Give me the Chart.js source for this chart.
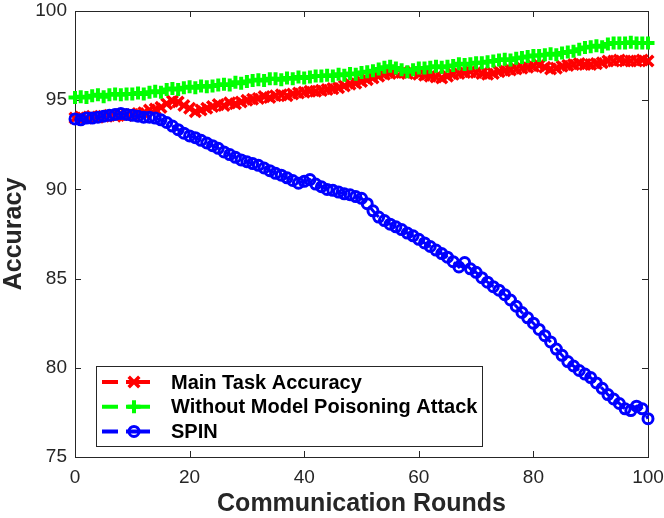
<!DOCTYPE html>
<html>
<head>
<meta charset="utf-8">
<script src="https://cdn.jsdelivr.net/npm/chart.js@4.4.1/dist/chart.umd.min.js"></script>
<style>
  html, body { margin: 0; padding: 0; background: #fff; }
  #wrap { width: 664px; height: 518px; }
</style>
</head>
<body>
<div id="wrap"><canvas id="graph" width="664" height="518"></canvas></div>
<script>
// rounds 0..100, one marker per round
const rounds = [0,1,2,3,4,5,6,7,8,9,10,11,12,13,14,15,16,17,18,19,20,21,22,23,24,25,26,27,28,29,30,31,32,33,34,35,36,37,38,39,40,41,42,43,44,45,46,47,48,49,50,51,52,53,54,55,56,57,58,59,60,61,62,63,64,65,66,67,68,69,70,71,72,73,74,75,76,77,78,79,80,81,82,83,84,85,86,87,88,89,90,91,92,93,94,95,96,97,98,99,100];

const mainTask = [94.0,94.05,94.0,94.1,94.05,94.1,94.15,94.1,94.2,94.15,94.2,94.25,94.3,94.45,94.5,94.6,94.8,94.95,94.9,94.7,
  94.55,94.35,94.45,94.55,94.65,94.75,94.7,94.85,94.8,94.9,95.0,95.05,95.1,95.2,95.15,95.25,95.3,95.25,95.35,95.4,
  95.45,95.5,95.5,95.55,95.6,95.65,95.7,95.8,95.9,95.95,96.05,96.15,96.25,96.35,96.45,96.5,96.55,96.55,96.5,96.55,
  96.45,96.4,96.35,96.3,96.25,96.35,96.45,96.5,96.55,96.6,96.55,96.5,96.45,96.5,96.6,96.65,96.7,96.75,96.8,96.85,
  96.9,96.95,96.85,96.75,96.8,96.9,96.95,97.0,97.05,97.0,97.0,97.05,97.1,97.2,97.2,97.25,97.2,97.2,97.2,97.25,97.2];

const noAttack = [95.15,95.2,95.15,95.25,95.3,95.2,95.3,95.35,95.3,95.35,95.35,95.4,95.35,95.45,95.5,95.45,95.6,95.65,95.6,95.7,
  95.75,95.7,95.8,95.75,95.8,95.85,95.9,95.85,96.0,95.95,96.05,96.1,96.15,96.1,96.2,96.2,96.15,96.25,96.2,96.3,
  96.25,96.3,96.35,96.35,96.4,96.35,96.45,96.4,96.5,96.45,96.55,96.6,96.65,96.75,96.85,96.9,96.8,96.7,96.6,96.7,
  96.8,96.8,96.85,96.9,96.85,96.9,96.95,97.05,97.0,97.05,97.1,97.1,97.15,97.2,97.25,97.3,97.25,97.35,97.4,97.45,
  97.5,97.5,97.55,97.6,97.55,97.65,97.7,97.75,97.85,97.95,98.0,98.05,98.0,98.15,98.2,98.2,98.2,98.25,98.2,98.2,98.2];

const spin = [93.95,93.9,94.0,94.0,94.05,94.1,94.15,94.2,94.25,94.2,94.15,94.1,94.05,94.05,94.0,93.9,93.75,93.55,93.35,93.15,
  93.0,92.9,92.75,92.6,92.45,92.3,92.1,91.95,91.8,91.65,91.55,91.45,91.35,91.2,91.05,90.9,90.8,90.65,90.5,90.35,
  90.45,90.55,90.3,90.15,90.0,89.95,89.85,89.75,89.7,89.6,89.5,89.2,88.8,88.45,88.25,88.05,87.9,87.75,87.55,87.4,
  87.2,87.0,86.8,86.6,86.4,86.2,85.95,85.65,85.9,85.55,85.35,85.05,84.8,84.55,84.35,84.1,83.8,83.45,83.1,82.8,
  82.5,82.15,81.8,81.45,81.05,80.7,80.35,80.1,79.85,79.65,79.45,79.15,78.85,78.5,78.25,78.0,77.7,77.6,77.85,77.7,77.15];

const seriesNames = ["Main Task Accuracy", "Without Model Poisoning Attack", "SPIN"];
const xTicks = [0, 20, 40, 60, 80, 100];
const yTicks = [75, 80, 85, 90, 95, 100];

const axisColor = '#262626';
const tickFont = { family: 'Liberation Sans, Arial, sans-serif', size: 19 };
const titleFont = { family: 'Liberation Sans, Arial, sans-serif', size: 25, weight: 'bold', lineHeight: 1.1 };

function pts(vals) {
  return vals.map((v, i) => ({ x: rounds[i], y: v }));
}

// matlab-ish box with inward ticks, and legend box in the lower left
const matlabBits = {
  id: 'matlabBits',
  beforeDatasetsDraw(chart) {
    const ctx = chart.ctx, a = chart.chartArea;
    const xs = chart.scales.x, ys = chart.scales.y;
    ctx.save();
    ctx.strokeStyle = axisColor;
    ctx.lineWidth = 1;
    ctx.strokeRect(Math.round(a.left) + 0.5, Math.round(a.top) + 0.5,
      Math.round(a.right - a.left), Math.round(a.bottom - a.top));
    ctx.beginPath();
    xTicks.forEach(t => {
      const px = Math.round(xs.getPixelForValue(t)) + 0.5;
      ctx.moveTo(px, a.bottom); ctx.lineTo(px, a.bottom - 6);
      ctx.moveTo(px, a.top); ctx.lineTo(px, a.top + 6);
    });
    yTicks.forEach(t => {
      const py = Math.round(ys.getPixelForValue(t)) + 0.5;
      ctx.moveTo(a.left, py); ctx.lineTo(a.left + 6, py);
      ctx.moveTo(a.right, py); ctx.lineTo(a.right - 6, py);
    });
    ctx.stroke();
    ctx.restore();
  },
  afterDatasetsDraw(chart) {
    const ctx = chart.ctx;
    const bx = 96.5, by = 366.5, bw = 386, bh = 80;
    ctx.save();
    ctx.fillStyle = '#fff';
    ctx.fillRect(bx, by, bw, bh);
    ctx.strokeStyle = axisColor;
    ctx.lineWidth = 1;
    ctx.strokeRect(bx, by, bw, bh);
    chart.data.datasets.forEach((ds, i) => {
      const y = 382 + i * 24.7;
      ctx.strokeStyle = ds.borderColor;
      ctx.lineWidth = 4;
      ctx.setLineDash([]);
      ctx.beginPath();
      ctx.moveTo(102, y); ctx.lineTo(118, y);
      ctx.moveTo(126, y); ctx.lineTo(150, y);
      ctx.stroke();
      ctx.fillStyle = ds.pointBackgroundColor;
      ctx.lineWidth = ds.pointBorderWidth;
      Chart.helpers.drawPoint(ctx, {
        pointStyle: ds.pointStyle, radius: ds.pointRadius,
        rotation: 0, borderWidth: ds.pointBorderWidth
      }, 134, y);
      ctx.fillStyle = '#000';
      ctx.font = 'bold 20px "Liberation Sans", Arial, sans-serif';
      ctx.textBaseline = 'middle';
      ctx.textAlign = 'left';
      ctx.fillText(ds.label, 171, y + 1);
    });
    ctx.restore();
  }
};

new Chart(document.getElementById('graph'), {
  type: 'line',
  data: {
    datasets: [
      {
        label: seriesNames[0], data: pts(mainTask), order: 3,
        borderColor: '#ff0000', pointBorderColor: '#ff0000', pointBackgroundColor: 'rgba(0,0,0,0)',
        borderWidth: 3, borderDash: [12, 8], pointStyle: 'crossRot', pointRadius: 7.5, pointBorderWidth: 3.5
      },
      {
        label: seriesNames[1], data: pts(noAttack), order: 2,
        borderColor: '#00ff00', pointBorderColor: '#00ff00', pointBackgroundColor: 'rgba(0,0,0,0)',
        borderWidth: 3, borderDash: [12, 8], pointStyle: 'cross', pointRadius: 6.5, pointBorderWidth: 4
      },
      {
        label: seriesNames[2], data: pts(spin), order: 1,
        borderColor: '#0000ff', pointBorderColor: '#0000ff', pointBackgroundColor: 'rgba(0,0,0,0)',
        borderWidth: 3, borderDash: [12, 8], pointStyle: 'circle', pointRadius: 5, pointBorderWidth: 3
      }
    ]
  },
  options: {
    responsive: false,
    devicePixelRatio: 1,
    animation: false,
    layout: { padding: { left: 0, right: 16, top: 9, bottom: 0 } },
    elements: { line: { tension: 0, fill: false } },
    datasets: { line: { clip: false } },
    scales: {
      x: {
        type: 'linear', min: 0, max: 100,
        afterBuildTicks: s => { s.ticks = xTicks.map(v => ({ value: v })); },
        afterFit: s => { s.height = 61; s.paddingLeft = 0; s.paddingRight = 0; },
        grid: { display: false, drawTicks: false },
        border: { display: false },
        ticks: { color: axisColor, font: tickFont, padding: 9, maxRotation: 0 },
        title: { display: true, text: 'Communication Rounds', color: axisColor, font: titleFont, padding: { top: 0, bottom: 0 } }
      },
      y: {
        min: 75, max: 100,
        afterBuildTicks: s => { s.ticks = yTicks.map(v => ({ value: v })); },
        afterFit: s => { s.width = 75; s.paddingTop = 0; s.paddingBottom = 0; },
        grid: { display: false, drawTicks: false },
        border: { display: false },
        ticks: { color: axisColor, font: tickFont, padding: 8 },
        title: { display: true, text: 'Accuracy', color: axisColor, font: titleFont, padding: { top: 0, bottom: 0 } }
      }
    },
    plugins: {
      legend: { display: false },
      tooltip: { enabled: false }
    }
  },
  plugins: [matlabBits]
});
</script>
</body>
</html>
